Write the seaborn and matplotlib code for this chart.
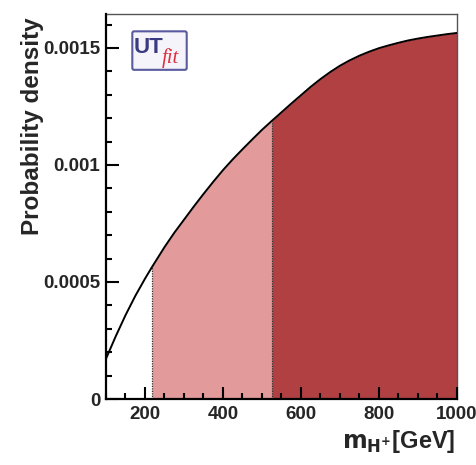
import numpy as np
import pandas as pd
import matplotlib
matplotlib.use("Agg")
import matplotlib.pyplot as plt
import seaborn as sns
from matplotlib.patches import FancyBboxPatch
from matplotlib.ticker import MultipleLocator

# Data
mass = [100, 125, 150, 175, 200, 218, 250, 275, 300, 325, 350, 375, 400, 425,
        450, 475, 500, 525, 550, 575, 600, 625, 650, 675, 700, 725, 750, 775,
        800, 825, 850, 875, 900, 925, 950, 975, 1000]
density = [0.000172, 0.000268, 0.000358, 0.000440, 0.000514, 0.000564,
           0.000649, 0.000710, 0.000766, 0.000822, 0.000876, 0.000928,
           0.000978, 0.001024, 0.001067, 0.001109, 0.001150, 0.001188,
           0.001225, 0.001262, 0.001298, 0.001334, 0.001367, 0.001397,
           0.001424, 0.001447, 0.001467, 0.001484, 0.001499, 0.001511,
           0.001522, 0.001532, 0.001540, 0.001547, 0.001553, 0.001559,
           0.001564]
range68 = (218, 525)
range95_hi = 1000
xticks = [200, 400, 600, 800, 1000]
yticks = [0, 0.0005, 0.001, 0.0015]
ytick_labels = ["0", "0.0005", "0.001", "0.0015"]

df = pd.DataFrame({"mass": mass, "density": density})

sns.set_theme(style="ticks")
plt.rcParams["font.family"] = ["Liberation Sans", "DejaVu Sans"]
plt.rcParams["font.weight"] = "bold"
plt.rcParams["axes.axisbelow"] = False
plt.rcParams["xtick.bottom"] = True
plt.rcParams["ytick.left"] = True
plt.rcParams["xtick.minor.visible"] = True
plt.rcParams["ytick.minor.visible"] = True

fig = plt.figure(figsize=(4.77, 4.65), dpi=100)
ax = fig.add_axes([0.2222, 0.1419, 0.958 - 0.2222, 0.9699 - 0.1419])
ax.set_axisbelow(False)

x = np.array(mass)
y = np.array(density)
m1 = (x >= range68[0]) & (x <= range68[1])
m2 = (x >= range68[1]) & (x <= range95_hi)
ax.fill_between(x[m1], 0, y[m1], color="#E39A9A", lw=0, zorder=0.2)
ax.fill_between(x[m2], 0, y[m2], color="#B04042", lw=0, zorder=0.2)
for xb in range68:
    yb = y[x == xb][0]
    ax.plot([xb, xb], [0, yb], color="#333333", lw=0.9, ls=(0, (1, 1)), zorder=0.5)

sns.lineplot(data=df, x="mass", y="density", ax=ax, color="black", lw=1.4, zorder=3)

ax.set_xlim(100, 1000)
ax.set_ylim(0, 0.001645)
ax.set_xticks(xticks)
ax.set_xticklabels([str(t) for t in xticks])
ax.set_yticks(yticks)
ax.set_yticklabels(ytick_labels)
ax.xaxis.set_minor_locator(MultipleLocator(50))
ax.yaxis.set_minor_locator(MultipleLocator(0.0001))
ax.tick_params(axis="both", which="major", direction="in", length=9, width=1.5,
               labelsize=13.5, color="black", bottom=True, left=True,
               top=False, right=False)
ax.tick_params(axis="both", which="minor", direction="in", length=4, width=1.5,
               color="black", bottom=True, left=True, top=False, right=False)
ax.tick_params(axis="x", which="major", pad=5)
ax.tick_params(axis="y", which="major", pad=4)
ax.xaxis.set_zorder(5)
ax.yaxis.set_zorder(5)
for lab in ax.get_xticklabels() + ax.get_yticklabels():
    lab.set_fontweight("bold")

for s in ["left", "bottom"]:
    ax.spines[s].set_visible(True)
    ax.spines[s].set_color("black")
    ax.spines[s].set_linewidth(1.6)
    ax.spines[s].set_zorder(6)
for s in ["top", "right"]:
    ax.spines[s].set_visible(True)
    ax.spines[s].set_color("#555555")
    ax.spines[s].set_linewidth(1.0)

ax.set_xlabel("")
ax.set_ylabel("")
fig.text(0.068, 0.9635, "Probability density", rotation=90, ha="center", va="top",
         fontsize=17.5, fontweight="bold")
fig.text(0.954, 0.022, r"$\mathbf{m_{H^{+}}}$[GeV]", ha="right", va="bottom",
         fontsize=17, fontweight="bold")

# UTfit logo
box = FancyBboxPatch((0.075, 0.855), 0.155, 0.1, boxstyle="round,pad=0.0,rounding_size=0.005",
                     transform=ax.transAxes, facecolor="#F4F4FA", edgecolor="#5A5AA0",
                     lw=1.5, zorder=5)
ax.add_patch(box)
ax.text(0.080, 0.912, "UT", transform=ax.transAxes, fontsize=16, color="#3A3A80",
        ha="left", va="center", zorder=6, fontweight="bold")
ax.text(0.160, 0.885, "fit", transform=ax.transAxes, fontsize=15, color="#E03040",
        ha="left", va="center", zorder=6, style="italic", fontweight="normal",
        family=["Liberation Serif", "DejaVu Serif"])

fig.savefig("out.png", dpi=100)
